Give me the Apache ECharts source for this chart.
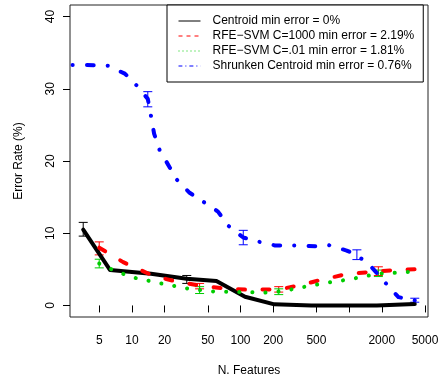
<!DOCTYPE html>
<html>
<head>
<meta charset="utf-8">
<script src="https://cdn.jsdelivr.net/npm/echarts@6/dist/echarts.min.js"></script>
<style>
  html, body { margin: 0; padding: 0; background: #fff; }
  #chart { width: 443px; height: 379px; }
</style>
</head>
<body>
<div id="chart"></div>
<script>
// values (x = number of features, y = error rate %)
const centroidX = [3.56, 6.3, 15, 32, 60, 110, 205, 450, 1800, 4026];
const centroidY = [10.5, 4.9, 4.4, 3.7, 3.4, 1.2, 0.15, 0, 0, 0.2];

const svm1000X = [5, 8.3, 15.7, 25, 42, 70, 110, 225, 350, 540, 920, 1600, 2650, 4026];
const svm1000Y = [8.0, 6.0, 4.1, 3.35, 2.75, 2.35, 2.2, 2.2, 2.8, 3.5, 4.3, 4.65, 4.9, 5.0];

const svm01X = [5, 6.5, 10, 20, 35, 60, 120, 160, 240, 350, 600, 1000, 1860, 2500, 4026];
const svm01Y = [5.8, 5.0, 3.9, 2.95, 2.25, 1.9, 1.85, 1.75, 1.95, 2.45, 3.1, 3.6, 4.4, 4.5, 4.7];

const shrunkX = [2, 3.56, 6, 8.6, 11, 14, 15, 16, 18, 26, 34, 45, 62, 77, 106, 150, 208, 300, 500, 650, 950, 1180, 1600, 2200, 2850, 4026];
const shrunkY = [33.3, 33.3, 33.2, 32.1, 30.5, 28.6, 26.2, 23.8, 21.5, 17.4, 15.6, 14.4, 13.0, 11.05, 9.4, 8.8, 8.3, 8.3, 8.2, 8.35, 7.6, 7.0, 5.35, 3.0, 1.15, 0.7];

// error bars: [x, low, high]
const centroidErr = [[3.56, 9.6, 11.5], [32, 3.05, 4.15]];
const svm1000Err = [[5, 7.0, 8.8], [42, 2.3, 3.05], [225, 1.85, 2.6], [1860, 4.15, 5.35]];
const svm01Err = [[5, 5.2, 6.4], [42, 1.65, 2.6], [225, 1.5, 2.3], [1860, 4.0, 4.9]];
const shrunkErr = [[14, 27.5, 29.6], [106, 8.4, 10.4], [1180, 6.35, 7.7], [4026, 0.45, 1.0]];

const xTicks = [5, 10, 20, 50, 100, 200, 500, 1000, 2000, 5000];
const xLabels = [5, 10, 20, 50, 100, 200, 500, 2000, 5000];
const yTicks = [0, 10, 20, 30, 40];

const names = [
  'Centroid min error = 0%',
  'RFE\u2212SVM C=1000 min error = 2.19%',
  'RFE\u2212SVM C=.01 min error = 1.81%',
  'Shrunken Centroid min error = 0.76%'
];
const colors = ['#000000', '#ff0000', '#00cd00', '#0000ff'];

const font = 'Liberation Sans, Arial, sans-serif';
const zip = (xs, ys) => xs.map((x, i) => [x, ys[i]]);

function errorBar(params, api) {
  const x = api.value(0);
  const lo = api.coord([x, api.value(1)]);
  const hi = api.coord([x, api.value(2)]);
  const h = 4.5;
  const style = { stroke: api.visual('color'), lineWidth: 1 };
  return {
    type: 'group',
    children: [
      { type: 'line', shape: { x1: lo[0], y1: lo[1], x2: hi[0], y2: hi[1] }, style },
      { type: 'line', shape: { x1: lo[0] - h, y1: lo[1], x2: lo[0] + h, y2: lo[1] }, style },
      { type: 'line', shape: { x1: hi[0] - h, y1: hi[1], x2: hi[0] + h, y2: hi[1] }, style }
    ]
  };
}

const lineSeries = (i, data, type, offset) => ({
  name: names[i],
  type: 'line',
  data: data,
  symbol: 'none',
  color: colors[i],
  clip: true,
  animation: false,
  lineStyle: { color: colors[i], width: 4, type: type, dashOffset: offset || 0, cap: 'round', join: 'round' }
});

const errSeries = (i, data) => ({
  name: 'err' + i,
  type: 'custom',
  data: data,
  color: colors[i],
  encode: { x: 0, y: [1, 2] },
  renderItem: errorBar,
  animation: false,
  silent: true
});

const legendLine = (i, type) => ({
  name: names[i],
  itemStyle: { opacity: 0 },
  lineStyle: { color: colors[i], width: 1, type: type, cap: 'butt' }
});

const chart = echarts.init(document.getElementById('chart'));
chart.setOption({
  animation: false,
  textStyle: { fontFamily: font },
  grid: {
    left: 70, right: 15, top: 5, bottom: 62,
    containLabel: false,
    outerBoundsMode: 'none',
    show: true, borderColor: '#222', borderWidth: 1, backgroundColor: 'transparent'
  },
  legend: {
    orient: 'vertical',
    left: 167, top: 5,
    padding: [10, 9, 10, 11],
    itemWidth: 22, itemHeight: 10, itemGap: 3,
    borderColor: '#000', borderWidth: 1, borderRadius: 0,
    backgroundColor: '#fff',
    textStyle: { fontFamily: font, fontSize: 12, color: '#000', padding: [0, 0, 0, 7], lineHeight: 12 },
    data: [
      legendLine(0, 'solid'),
      legendLine(1, [4, 4]),
      legendLine(2, [1, 3]),
      legendLine(3, [1, 3, 4, 3])
    ]
  },
  xAxis: {
    type: 'log',
    logBase: 10,
    min: 2.69,
    max: 5330,
    name: 'N. Features',
    nameLocation: 'middle',
    nameGap: 48,
    nameTextStyle: { fontFamily: font, fontSize: 12, color: '#000' },
    axisLine: { show: false },
    axisTick: { show: true, inside: false, length: 7, customValues: xTicks, lineStyle: { color: '#000' } },
    axisLabel: { show: true, customValues: xLabels, margin: 18, fontSize: 12, color: '#000', fontFamily: font,
      formatter: v => String(Math.round(v)) },
    splitLine: { show: false },
    minorTick: { show: false }
  },
  yAxis: {
    type: 'value',
    min: -1.6,
    max: 41.6,
    name: 'Error Rate (%)',
    nameLocation: 'middle',
    nameGap: 45,
    nameTextStyle: { fontFamily: font, fontSize: 12, color: '#000' },
    axisLine: { show: false },
    axisTick: { show: true, inside: false, length: 7, customValues: yTicks, lineStyle: { color: '#000' } },
    axisLabel: { show: true, customValues: yTicks, rotate: 90, margin: 13, fontSize: 12, color: '#000', fontFamily: font },
    splitLine: { show: false }
  },
  series: [
    lineSeries(0, zip(centroidX, centroidY), 'solid'),
    lineSeries(1, zip(svm1000X, svm1000Y), [7, 17.5]),
    lineSeries(2, zip(svm01X, svm01Y), [0.1, 13]),
    lineSeries(3, zip(shrunkX, shrunkY), [6.7, 14, 0.1, 14.3], 4.13),
    errSeries(0, centroidErr),
    errSeries(1, svm1000Err),
    errSeries(2, svm01Err),
    errSeries(3, shrunkErr)
  ]
});
</script>
</body>
</html>
